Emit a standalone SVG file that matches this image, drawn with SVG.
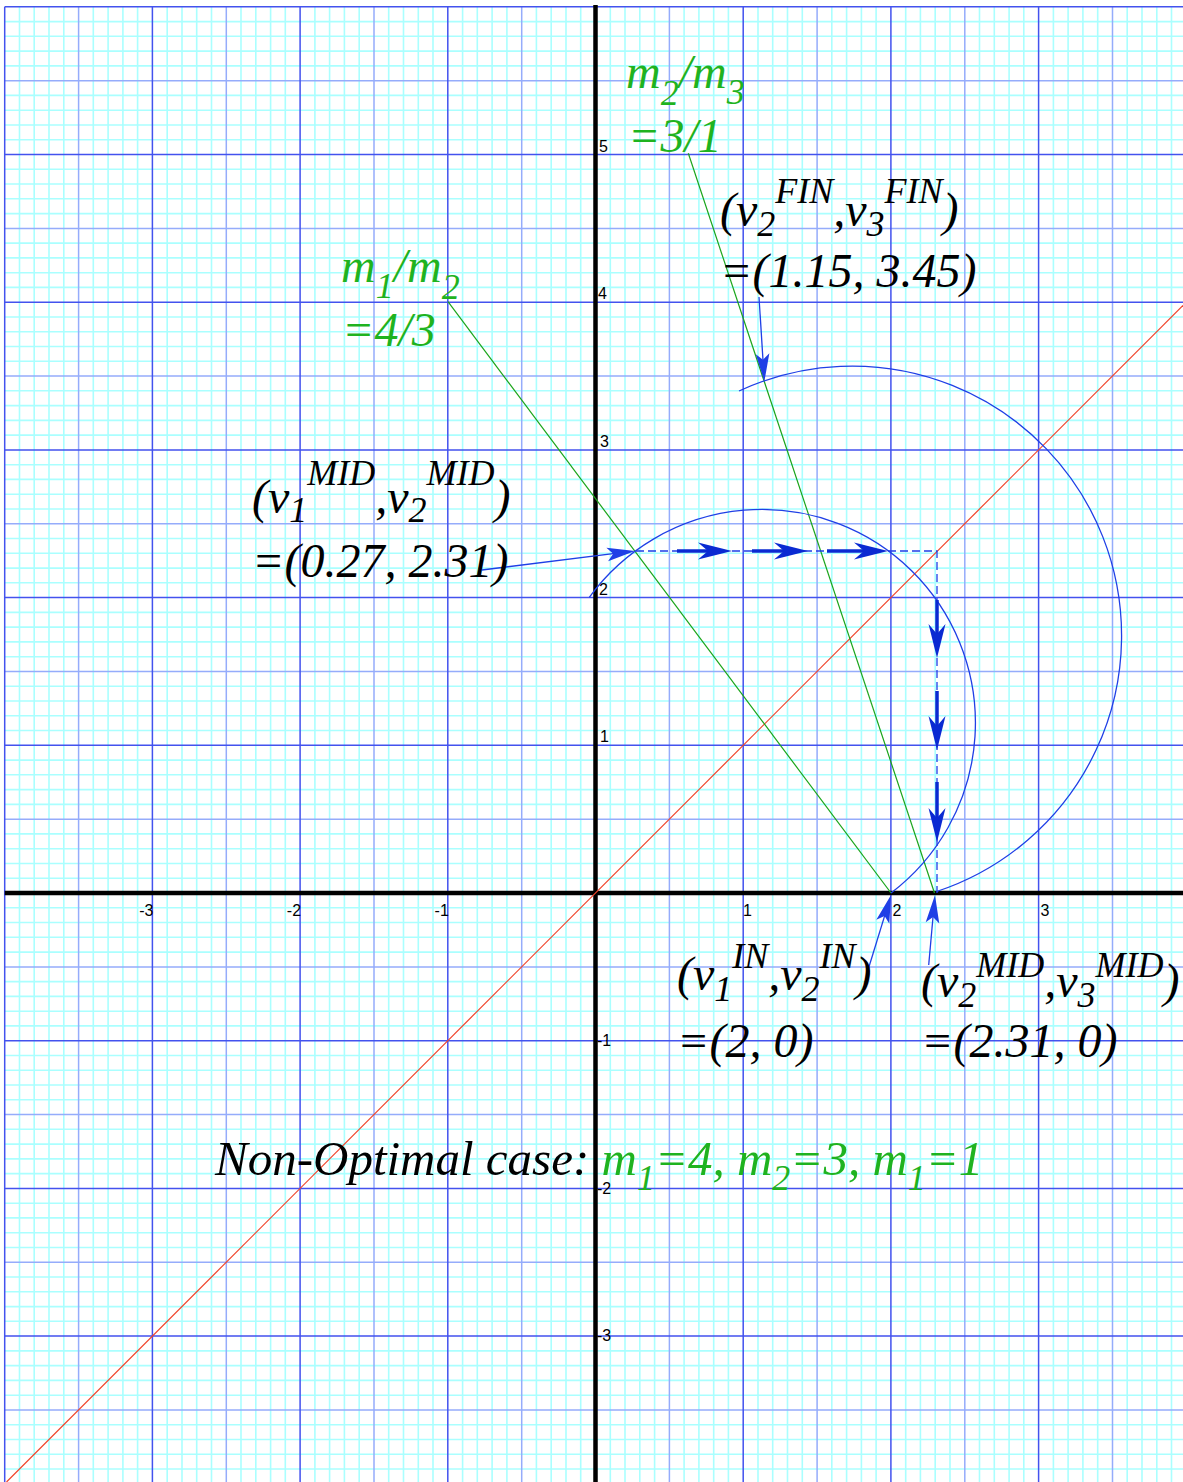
<svg xmlns="http://www.w3.org/2000/svg" width="1183" height="1482" viewBox="0 0 1183 1482">
<style>
.minor{stroke:#aaffff;stroke-width:1.6;fill:none}
.half{stroke:#95acfb;stroke-width:1.5;fill:none}
.major{stroke:#4352ee;stroke-width:1.5;fill:none}
.axis{stroke:#000;stroke-width:4.5;fill:none}
.tick{font-family:"Liberation Sans",Arial,sans-serif;font-size:16px;fill:#000}
.lbl{font-family:"Liberation Serif","Times New Roman",serif;font-style:italic;font-size:48px;fill:#000}
.grn{fill:#1fb31f}
.s{font-size:36px}
.curve{stroke:#1f3fe6;stroke-width:1.3;fill:none}
.dash{stroke:#1f3fe6;stroke-width:1.3;fill:none;stroke-dasharray:8 4}
.thick{stroke:#0a2ad2;stroke-width:3.5;fill:none;marker-end:url(#bighead)}
.thin{stroke:#1f3fe6;stroke-width:1.3;fill:none;marker-end:url(#smallhead)}
.gline{stroke:#1aa51a;stroke-width:1.2;fill:none}
.rline{stroke:#f0442a;stroke-width:1.2;fill:none}
</style>
<defs>
<marker id="bighead" markerUnits="userSpaceOnUse" viewBox="-36 -10 38 20" markerWidth="38" markerHeight="20" refX="-24" refY="0" orient="auto">
<path d="M0,0 L-34,-8.5 L-24,0 L-34,8.5 Z" fill="#0a2ad2"/>
</marker>
<marker id="smallhead" markerUnits="userSpaceOnUse" viewBox="-30 -8 32 16" markerWidth="32" markerHeight="16" refX="-10" refY="0" orient="auto">
<path d="M0,0 L-28,-6.8 L-22,0 L-28,6.8 Z" fill="#1f3fe6"/>
</marker>
</defs>
<rect width="1183" height="1482" fill="#fff"/>
<g id="grid">
<path class="minor" d="M19.5 6.8V1482M34.2 6.8V1482M49 6.8V1482M63.8 6.8V1482M93.3 6.8V1482M108.1 6.8V1482M122.9 6.8V1482M137.6 6.8V1482M167.2 6.8V1482M182 6.8V1482M196.7 6.8V1482M211.5 6.8V1482M241 6.8V1482M255.8 6.8V1482M270.6 6.8V1482M285.3 6.8V1482M314.9 6.8V1482M329.6 6.8V1482M344.4 6.8V1482M359.2 6.8V1482M388.7 6.8V1482M403.5 6.8V1482M418.3 6.8V1482M433 6.8V1482M462.6 6.8V1482M477.3 6.8V1482M492.1 6.8V1482M506.9 6.8V1482M536.4 6.8V1482M551.2 6.8V1482M566 6.8V1482M580.7 6.8V1482M610.3 6.8V1482M625 6.8V1482M639.8 6.8V1482M654.6 6.8V1482M684.1 6.8V1482M698.9 6.8V1482M713.7 6.8V1482M728.4 6.8V1482M758 6.8V1482M772.7 6.8V1482M787.5 6.8V1482M802.3 6.8V1482M831.8 6.8V1482M846.6 6.8V1482M861.4 6.8V1482M876.1 6.8V1482M905.7 6.8V1482M920.4 6.8V1482M935.2 6.8V1482M950 6.8V1482M979.5 6.8V1482M994.3 6.8V1482M1009.1 6.8V1482M1023.8 6.8V1482M1053.4 6.8V1482M1068.1 6.8V1482M1082.9 6.8V1482M1097.7 6.8V1482M1127.2 6.8V1482M1142 6.8V1482M1156.8 6.8V1482M1171.5 6.8V1482
M4.7 21.6H1183M4.7 36.3H1183M4.7 51.1H1183M4.7 65.9H1183M4.7 95.4H1183M4.7 110.2H1183M4.7 125H1183M4.7 139.7H1183M4.7 169.3H1183M4.7 184H1183M4.7 198.8H1183M4.7 213.6H1183M4.7 243.1H1183M4.7 257.9H1183M4.7 272.7H1183M4.7 287.4H1183M4.7 317H1183M4.7 331.7H1183M4.7 346.5H1183M4.7 361.3H1183M4.7 390.8H1183M4.7 405.6H1183M4.7 420.4H1183M4.7 435.1H1183M4.7 464.7H1183M4.7 479.4H1183M4.7 494.2H1183M4.7 509H1183M4.7 538.5H1183M4.7 553.3H1183M4.7 568.1H1183M4.7 582.8H1183M4.7 612.4H1183M4.7 627.1H1183M4.7 641.9H1183M4.7 656.7H1183M4.7 686.2H1183M4.7 701H1183M4.7 715.8H1183M4.7 730.5H1183M4.7 760.1H1183M4.7 774.8H1183M4.7 789.6H1183M4.7 804.4H1183M4.7 833.9H1183M4.7 848.7H1183M4.7 863.5H1183M4.7 878.2H1183M4.7 907.8H1183M4.7 922.5H1183M4.7 937.3H1183M4.7 952.1H1183M4.7 981.6H1183M4.7 996.4H1183M4.7 1011.2H1183M4.7 1025.9H1183M4.7 1055.5H1183M4.7 1070.2H1183M4.7 1085H1183M4.7 1099.8H1183M4.7 1129.3H1183M4.7 1144.1H1183M4.7 1158.9H1183M4.7 1173.6H1183M4.7 1203.2H1183M4.7 1217.9H1183M4.7 1232.7H1183M4.7 1247.5H1183M4.7 1277H1183M4.7 1291.8H1183M4.7 1306.6H1183M4.7 1321.3H1183M4.7 1350.9H1183M4.7 1365.6H1183M4.7 1380.4H1183M4.7 1395.2H1183M4.7 1424.7H1183M4.7 1439.5H1183M4.7 1454.3H1183M4.7 1469H1183"/>
<path class="half" d="M78.6 6.8V1482M226.3 6.8V1482M374 6.8V1482M521.7 6.8V1482M669.4 6.8V1482M817.1 6.8V1482M964.8 6.8V1482M1112.5 6.8V1482
M4.7 80.7H1183M4.7 228.4H1183M4.7 376.1H1183M4.7 523.8H1183M4.7 671.5H1183M4.7 819.2H1183M4.7 966.9H1183M4.7 1114.6H1183M4.7 1262.3H1183M4.7 1410H1183"/>
<path class="major" d="M4.7 6.8V1482M152.4 6.8V1482M300.1 6.8V1482M447.8 6.8V1482M743.2 6.8V1482M890.9 6.8V1482M1038.6 6.8V1482
M4.7 6.8H1183M4.7 154.5H1183M4.7 302.2H1183M4.7 449.9H1183M4.7 597.6H1183M4.7 745.3H1183M4.7 1040.7H1183M4.7 1188.4H1183M4.7 1336.1H1183"/>
</g>
<g id="axes">
<path class="axis" d="M595.5 5V1482M4.7 893H1183"/>
<g class="tick">
<text x="599" y="151.5">5</text>
<text x="598" y="299">4</text>
<text x="600" y="446.5">3</text>
<text x="599" y="594.5">2</text>
<text x="600" y="742">1</text>
<text x="597" y="1045.5">-1</text>
<text x="597" y="1193.5">-2</text>
<text x="597" y="1341">-3</text>
<text x="153.4" y="916" text-anchor="end">-3</text>
<text x="301.1" y="916" text-anchor="end">-2</text>
<text x="448.8" y="916" text-anchor="end">-1</text>
<text x="743" y="916">1</text>
<text x="892.5" y="916">2</text>
<text x="1040.5" y="916">3</text>
</g>
</g>
<g id="diagonal">
<path class="rline" d="M6.5 1482L1183 305.5"/>
</g>
<g id="momentum-lines">
<path class="gline" d="M891 893L448 301.7"/>
<path class="gline" d="M934.5 893L688.3 153.3"/>
</g>
<g id="energy-circles">
<path class="curve" d="M589.3 597.3A213.5 213.5 0 1 1 891 893"/>
<path class="curve" d="M739 391A269.5 269.5 0 1 1 936.7 891.5"/>
</g>
<g id="connectors">
<path class="dash" d="M636 551H937V893"/>
<path class="thick" d="M677 551H708"/>
<path class="thick" d="M752 551H784"/>
<path class="thick" d="M827 551H864"/>
<path class="thick" d="M937 600V634"/>
<path class="thick" d="M937 691V726"/>
<path class="thick" d="M937 782V818"/>
<path class="thin" d="M759 297L763.7 371.7"/>
<path class="thin" d="M482 570L625.1 552.2"/>
<path class="thin" d="M868 970L888.1 904.6"/>
<path class="thin" d="M928.7 965L934.1 905"/>
</g>
<g id="label-m2m3" class="lbl grn">
<text x="626" y="88">m<tspan class="s" dy="17">2</tspan><tspan dy="-17">/m</tspan><tspan class="s" dy="16">3</tspan></text>
<text x="628" y="152">=3/1</text>
</g>
<g id="label-m1m2" class="lbl grn">
<text x="341" y="282">m<tspan class="s" dy="16">1</tspan><tspan dy="-16">/m</tspan><tspan class="s" dy="17">2</tspan></text>
<text x="342" y="346">=4/3</text>
</g>
<g id="label-fin" class="lbl">
<text x="720" y="226">(v<tspan class="s" dy="10">2</tspan><tspan class="s" dy="-33">FIN</tspan><tspan dy="23">,v</tspan><tspan class="s" dy="10">3</tspan><tspan class="s" dy="-33">FIN</tspan><tspan dy="23">)</tspan></text>
<text x="720" y="287">=(1.15, 3.45)</text>
</g>
<g id="label-mid1" class="lbl">
<text x="252" y="513">(v<tspan class="s" dy="9">1</tspan><tspan class="s" dy="-37">MID</tspan><tspan dy="28">,v</tspan><tspan class="s" dy="9">2</tspan><tspan class="s" dy="-37">MID</tspan><tspan dy="28">)</tspan></text>
<text x="252" y="577">=(0.27, 2.31)</text>
</g>
<g id="label-in" class="lbl">
<text x="677" y="990">(v<tspan class="s" dy="11">1</tspan><tspan class="s" dy="-33">IN</tspan><tspan dy="22">,v</tspan><tspan class="s" dy="11">2</tspan><tspan class="s" dy="-33">IN</tspan><tspan dy="22">)</tspan></text>
<text x="677" y="1057">=(2, 0)</text>
</g>
<g id="label-mid2" class="lbl">
<text x="921" y="997">(v<tspan class="s" dy="10">2</tspan><tspan class="s" dy="-30">MID</tspan><tspan dy="20">,v</tspan><tspan class="s" dy="10">3</tspan><tspan class="s" dy="-30">MID</tspan><tspan dy="20">)</tspan></text>
<text x="921" y="1057">=(2.31, 0)</text>
</g>
<g id="label-case" class="lbl" style="font-size:49px">
<text x="215" y="1175">Non-Optimal case: <tspan class="grn">m<tspan class="s" dy="15">1</tspan><tspan dy="-15">=4, m</tspan><tspan class="s" dy="15">2</tspan><tspan dy="-15">=3, m</tspan><tspan class="s" dy="15">1</tspan><tspan dy="-15">=1</tspan></tspan></text>
</g>
</svg>
